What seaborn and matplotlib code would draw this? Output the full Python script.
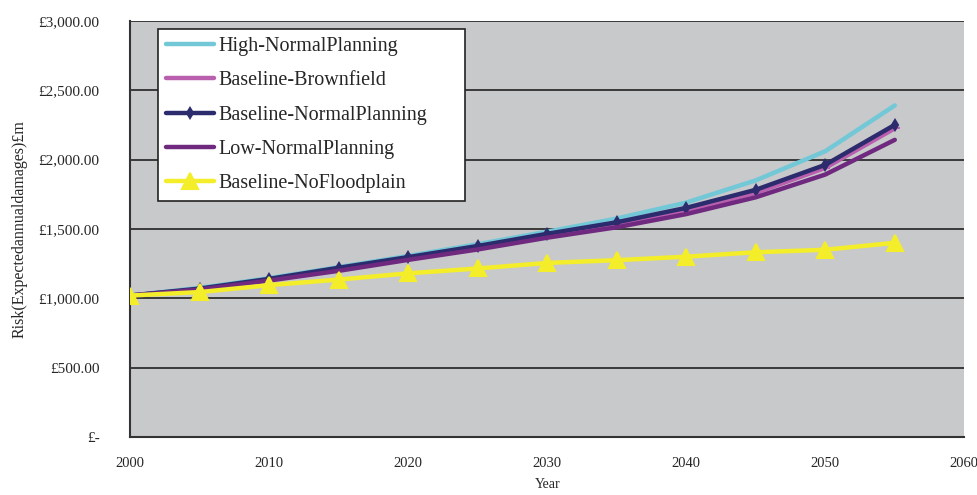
import numpy as np
import pandas as pd
import matplotlib
matplotlib.use("Agg")
import matplotlib.pyplot as plt
from matplotlib.ticker import FuncFormatter
import seaborn as sns

years = [2000, 2005, 2010, 2015, 2020, 2025, 2030, 2035, 2040, 2045, 2050, 2055]
high_normal = [1020, 1075, 1145, 1225, 1305, 1390, 1480, 1575, 1690, 1850, 2060, 2390]
base_brownfield = [1020, 1065, 1135, 1205, 1285, 1365, 1450, 1530, 1630, 1760, 1940, 2225]
base_normal = [1020, 1070, 1140, 1220, 1297, 1377, 1465, 1548, 1652, 1782, 1962, 2250]
low_normal = [1020, 1063, 1128, 1198, 1277, 1352, 1437, 1512, 1607, 1728, 1892, 2142]
base_nofloodplain = [1020, 1045, 1095, 1135, 1180, 1215, 1255, 1275, 1300, 1332, 1350, 1400]

series = ["High-NormalPlanning", "Baseline-Brownfield", "Baseline-NormalPlanning",
          "Low-NormalPlanning", "Baseline-NoFloodplain"]
values = [high_normal, base_brownfield, base_normal, low_normal, base_nofloodplain]

df = pd.DataFrame({"Year": years * len(series),
                   "Risk": np.concatenate(values),
                   "Scenario": np.repeat(series, len(years))})

colors = {"High-NormalPlanning": "#72C8D6",
          "Baseline-Brownfield": "#BA5FAE",
          "Baseline-NormalPlanning": "#2C2B6E",
          "Low-NormalPlanning": "#6F2A80",
          "Baseline-NoFloodplain": "#F4EE2A"}
markers = {"High-NormalPlanning": None,
           "Baseline-Brownfield": "_",
           "Baseline-NormalPlanning": "d",
           "Low-NormalPlanning": None,
           "Baseline-NoFloodplain": "^"}
msizes = {"Baseline-Brownfield": 7, "Baseline-NormalPlanning": 5, "Baseline-NoFloodplain": 11}

sns.set_style("white")
plt.rcParams['font.family'] = ['Liberation Serif', 'DejaVu Serif']

fig = plt.figure(figsize=(9.78, 4.95), dpi=100)
ax = fig.add_axes([0.133, 0.117, 0.853, 0.841])
ax.set_facecolor("#C8C9CB")

for name in series:
    sub = df[df["Scenario"] == name]
    sns.lineplot(data=sub, x="Year", y="Risk", ax=ax, color=colors[name], linewidth=3.2,
                 marker=markers[name], markersize=msizes.get(name, 0),
                 markeredgecolor=colors[name], markeredgewidth=1.5, label=name, zorder=3)

ax.set_xlim(2000, 2060)
ax.set_ylim(0, 3000)
ax.set_xticks(range(2000, 2061, 10))
ax.set_yticks(range(0, 3001, 500))
ax.yaxis.set_major_formatter(FuncFormatter(lambda v, p: "£-" if v == 0 else f"£{v:,.2f}"))
ax.grid(axis="y", color="#222222", linewidth=1.2)
ax.set_axisbelow(True)
for s in ["top", "right"]:
    ax.spines[s].set_visible(False)
for s in ["left", "bottom"]:
    ax.spines[s].set_color("#333333")
    ax.spines[s].set_linewidth(1.5)
ax.tick_params(axis="both", direction="out", length=4, width=1.2, color="#333333")
ax.tick_params(axis="y", labelsize=11, pad=18)
ax.tick_params(axis="x", labelsize=10.5, pad=10)
ax.set_xlabel("Year", fontsize=10, labelpad=6)
ax.set_ylabel("Risk(Expectedannualdamages)£m", fontsize=11.5, labelpad=8)

leg = ax.legend(loc="upper left", bbox_to_anchor=(0.0336, 0.0, 0.368, 0.98), mode="expand",
                fontsize=14.5, frameon=True, fancybox=False, edgecolor="#222222",
                facecolor="white", framealpha=1, handlelength=2.4, handletextpad=0.2,
                labelspacing=0.75, borderpad=0.4, borderaxespad=0)
leg.get_frame().set_linewidth(1.2)

fig.savefig("out.png", dpi=100)
